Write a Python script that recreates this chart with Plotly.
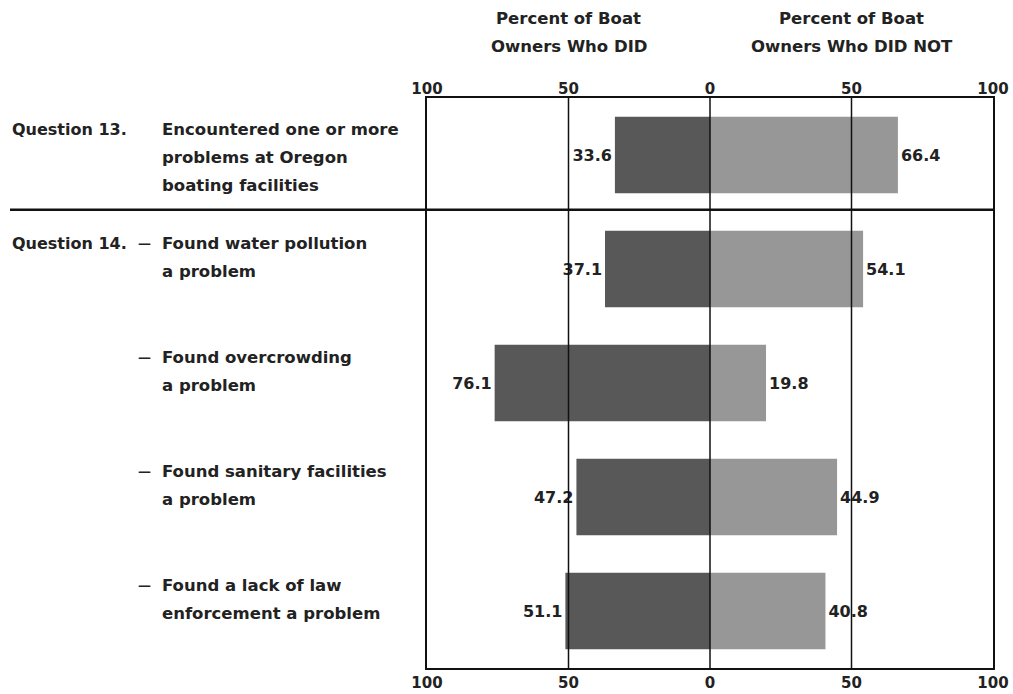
import plotly.graph_objects as go

# data
did = [33.6, 37.1, 76.1, 47.2, 51.1]
did_not = [66.4, 54.1, 19.8, 44.9, 40.8]
question_tags = ["Question 13.", "Question 14.", "", "", ""]
dashes = ["", "\u2014", "\u2014", "\u2014", "\u2014"]
item_lines = [
    ["Encountered one or more", "problems at Oregon", "boating facilities"],
    ["Found water pollution", "a problem"],
    ["Found overcrowding", "a problem"],
    ["Found sanitary facilities", "a problem"],
    ["Found a lack of law", "enforcement a problem"],
]
tick_vals = [-100, -50, 0, 50, 100]
tick_text = ["100", "50", "0", "50", "100"]
grid_vals = [-50, 0, 50]
header_did = ["Percent of Boat", "Owners Who DID"]
header_did_not = ["Percent of Boat", "Owners Who DID NOT"]

FONT = "DejaVu Sans"
TXT = "#222222"
LINE = "#111111"
W, H = 1013, 694
ML, MR, MT, MB = 427, 20, 98, 26
plot_w = W - ML - MR


def px_to_paper_x(px):
    return (px - ML) / plot_w


def bold(size):
    return dict(family=FONT, size=size, color=TXT, weight="bold")


rows = list(range(len(did)))

fig = go.Figure()
fig.add_trace(go.Bar(
    y=rows, x=[-v for v in did], orientation="h",
    marker=dict(color="#585858", line=dict(width=0)),
    text=[f"{v:.1f}" for v in did], textposition="outside",
    textfont=bold(16), constraintext="none", cliponaxis=False, width=0.67,
    hoverinfo="skip", showlegend=False,
))
fig.add_trace(go.Bar(
    y=rows, x=did_not, orientation="h",
    marker=dict(color="#979797", line=dict(width=0)),
    text=[f"{v:.1f}" for v in did_not], textposition="outside",
    textfont=bold(16), constraintext="none", cliponaxis=False, width=0.67,
    hoverinfo="skip", showlegend=False,
))
# dummy trace so the top axis is drawn
fig.add_trace(go.Scatter(x=[0], y=[0], xaxis="x2", mode="markers",
                         marker=dict(opacity=0), hoverinfo="skip", showlegend=False))

ann = []
for i, lines in enumerate(item_lines):
    for j, line in enumerate(lines):
        ann.append(dict(x=px_to_paper_x(160), xref="paper", y=i, yref="y",
                        yshift=26 - 28 * j, text=line, showarrow=False,
                        xanchor="left", yanchor="middle", font=bold(16.5)))
    if question_tags[i]:
        ann.append(dict(x=px_to_paper_x(10), xref="paper", y=i, yref="y",
                        yshift=26, text=question_tags[i], showarrow=False,
                        xanchor="left", yanchor="middle", font=bold(16)))
    if dashes[i]:
        ann.append(dict(x=px_to_paper_x(153), xref="paper", y=i, yref="y",
                        yshift=26, text=dashes[i], showarrow=False,
                        xanchor="right", yanchor="middle", font=bold(13)))

for xc, lines in [(-50, header_did), (50, header_did_not)]:
    for j, line in enumerate(lines):
        ann.append(dict(x=xc, xref="x", y=1, yref="paper", yshift=80 - 28 * j,
                        text=line, showarrow=False, xanchor="center",
                        yanchor="middle", font=bold(16.5)))

shapes = [dict(type="line", xref="paper", x0=px_to_paper_x(10), x1=1,
               yref="y", y0=0.48, y1=0.48, line=dict(color=LINE, width=2.5))]
for gv in grid_vals:
    shapes.append(dict(type="line", xref="x", x0=gv, x1=gv, yref="paper",
                       y0=0, y1=1, layer="above", line=dict(color=LINE, width=1.5)))

fig.update_layout(
    width=W, height=H,
    margin=dict(l=ML, r=MR, t=MT, b=MB),
    paper_bgcolor="white", plot_bgcolor="white",
    barmode="relative",
    annotations=ann,
    shapes=shapes,
    xaxis=dict(range=[-100, 100], tickvals=tick_vals, ticktext=tick_text,
               showgrid=False, zeroline=False,
               showline=True, linecolor=LINE, linewidth=2, mirror=True,
               ticks="", automargin=False, tickfont=bold(15)),
    xaxis2=dict(range=[-100, 100], overlaying="x", side="top",
                tickvals=tick_vals, ticktext=tick_text, showgrid=False,
                zeroline=False, showline=False, ticks="", automargin=False,
                tickfont=bold(15)),
    yaxis=dict(range=[4.5, -0.5], showticklabels=False, showgrid=False,
               zeroline=False, showline=True, linecolor=LINE, linewidth=2,
               mirror=True, ticks="", automargin=False),
)

fig.write_html("out.html", config={"displayModeBar": False},
               post_script="document.body.style.margin='0';")
